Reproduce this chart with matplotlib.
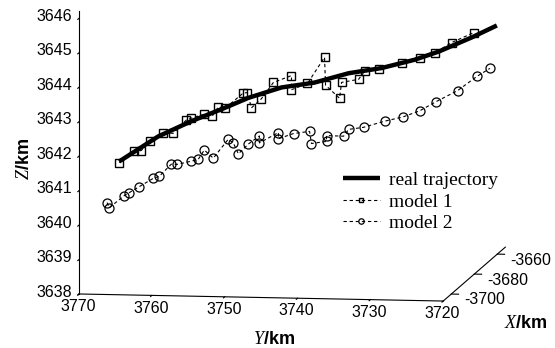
import matplotlib
matplotlib.use("Agg")
import matplotlib.pyplot as plt

# trajectory: Y and Z in km, X held at one depth
X_PLANE = -3700

real_y = [3765.60, 3760.23, 3755.69, 3751.16, 3747.85, 3743.31, 3738.78,
          3734.10, 3729.56, 3725.02, 3721.72, 3717.18, 3713.74]
real_z = [3641.66, 3642.41, 3642.87, 3643.27, 3643.58, 3643.90, 3644.06,
          3644.35, 3644.52, 3644.78, 3645.03, 3645.46, 3645.82]

m1_y = [3765.60, 3763.54, 3762.57, 3761.33, 3759.55, 3758.17, 3756.38, 3755.69,
        3753.91, 3752.81, 3751.98, 3751.02, 3748.54, 3747.99, 3747.44, 3746.07,
        3744.42, 3741.94, 3741.94, 3739.74, 3737.40, 3737.26, 3735.34, 3735.06,
        3732.72, 3731.90, 3729.97, 3726.81, 3724.33, 3722.27, 3719.93, 3716.91]
m1_z = [3641.63, 3641.96, 3641.99, 3642.26, 3642.50, 3642.51, 3642.90, 3642.96,
        3643.08, 3643.03, 3643.30, 3643.27, 3643.72, 3643.73, 3643.29, 3643.56,
        3644.04, 3644.25, 3643.84, 3644.03, 3644.80, 3643.99, 3643.62, 3644.08,
        3644.18, 3644.42, 3644.49, 3644.68, 3644.84, 3644.99, 3645.30, 3645.60]

m2_y = [3767.25, 3766.97, 3764.91, 3764.22, 3762.85, 3760.92, 3760.10, 3758.45,
        3757.62, 3755.69, 3754.73, 3753.91, 3752.67, 3750.61, 3749.92, 3749.23,
        3747.85, 3746.34, 3746.34, 3743.73, 3743.73, 3741.66, 3739.46, 3739.19,
        3737.13, 3737.13, 3734.79, 3734.10, 3732.04, 3729.15, 3726.67, 3724.33,
        3722.13, 3719.11, 3716.49, 3714.70]
m2_z = [3640.46, 3640.31, 3640.67, 3640.76, 3640.94, 3641.19, 3641.25, 3641.61,
        3641.61, 3641.71, 3641.77, 3642.04, 3641.81, 3642.37, 3642.26, 3641.95,
        3642.24, 3642.48, 3642.28, 3642.59, 3642.41, 3642.57, 3642.64, 3642.29,
        3642.36, 3642.53, 3642.52, 3642.72, 3642.79, 3642.98, 3643.11, 3643.30,
        3643.57, 3643.91, 3644.33, 3644.57]

x_ticks = [-3700, -3680, -3660]
y_ticks = [3720, 3730, 3740, 3750, 3760, 3770]
z_ticks = [3638, 3639, 3640, 3641, 3642, 3643, 3644, 3645, 3646]

plt.rcParams["font.family"] = "Liberation Sans"
plt.rcParams["axes.unicode_minus"] = False
plt.rcParams["mathtext.fontset"] = "custom"
plt.rcParams["mathtext.it"] = "Liberation Serif:italic"
plt.rcParams["mathtext.rm"] = "Liberation Serif"

fig = plt.figure(figsize=(5.55, 3.48), dpi=100)
ax = fig.add_axes([0.018, 0.115, 1, 1], projection="3d", proj_type="ortho",
                  computed_zorder=False)

ax.plot([X_PLANE] * len(real_y), real_y, real_z, color="black", lw=3.2,
        solid_capstyle="butt", label="real trajectory", zorder=2, clip_on=False)
ax.plot([X_PLANE] * len(m1_y), m1_y, m1_z, color="black", lw=0.8,
        ls=(0, (3, 2.5)), marker="s", ms=6, mfc="none", mec="black", mew=1.0,
        label="model 1", zorder=3, clip_on=False)
ax.plot([X_PLANE] * len(m2_y), m2_y, m2_z, color="black", lw=0.8,
        ls=(0, (3, 2.5)), marker="o", ms=6.5, mfc="none", mec="black", mew=0.9,
        label="model 2", zorder=3, clip_on=False)

ax.set_xlim(-3707, -3653)
ax.set_ylim(3720, 3770)
ax.set_zlim(3638, 3646.2)
ax.set_xticks(x_ticks)
ax.set_yticks(y_ticks)
ax.set_zticks(z_ticks)
ax.set_box_aspect((419, 367, 284), zoom=1.75)
ax.view_init(elev=7.45, azim=188.5)

ax.grid(False)
for axis in (ax.xaxis, ax.yaxis, ax.zaxis):
    axis.pane.set_visible(False)
    axis._axinfo["tick"]["inward_factor"] = 0.25
    axis._axinfo["tick"]["outward_factor"] = 0.0
    axis._axinfo["axisline"]["color"] = "black"
    axis._axinfo["axisline"]["linewidth"] = 1.0
    axis.set_tick_params(labelsize=11.5, colors="black")

ax.xaxis.set_tick_params(pad=-3.3)
ax.yaxis.set_tick_params(pad=-6)
ax.zaxis.set_tick_params(pad=-0.5)
for lab in ax.get_xticklabels():
    lab.set_ha("left")
    lab.set_va("baseline")
for lab in ax.get_zticklabels():
    lab.set_va("baseline")

ax.xaxis.set_rotate_label(False)
ax.yaxis.set_rotate_label(False)
ax.xaxis._axinfo["label"]["va"] = "top"
ax.yaxis._axinfo["label"]["ha"] = "left"
ax.set_xlabel("$X$/km", fontsize=13, fontweight="bold", labelpad=-2.5)
ax.set_ylabel("$Y$/km", fontsize=13, fontweight="bold", labelpad=-4.6)
ax.set_zlabel("$Z$/km", fontsize=13, fontweight="bold", labelpad=-4.3)

ax.legend(loc="upper left", bbox_to_anchor=(0.593, 0.546),
          bbox_transform=fig.transFigure, frameon=False,
          prop={"family": "Liberation Serif", "size": 14},
          handlelength=1.9, handletextpad=0.5, markerscale=0.6,
          labelspacing=0.2, borderpad=0.2)

fig.savefig("out.png", dpi=100)
